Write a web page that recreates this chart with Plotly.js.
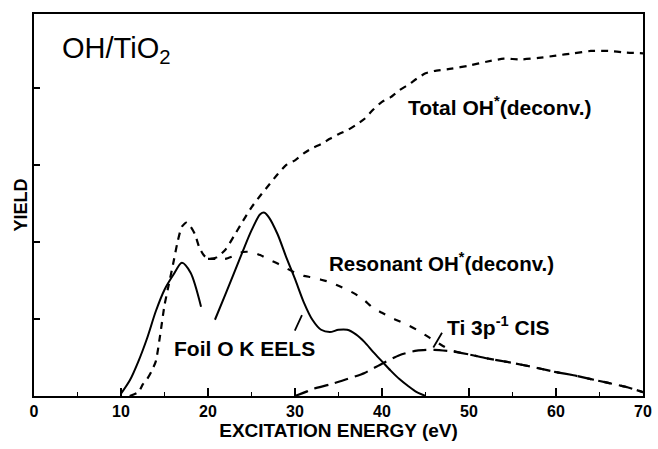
<!DOCTYPE html>
<html>
<head>
<meta charset="utf-8">
<script src="https://cdn.plot.ly/plotly-3.0.1.min.js"></script>
<style>html,body{margin:0;padding:0;background:#fff;}#chart{width:658px;height:449px;}</style>
</head>
<body>
<div id="chart"></div>
<script>
// Foil O K EELS (solid), two segments separated by a gap
const eelsX = [10, 11, 12, 13, 14, 15, 16, 17, 18, 19.2, null, 20.8, 22, 23, 24, 25, 26, 26.5, 27, 28, 29, 30, 31, 32, 33, 34, 35, 36, 37, 38, 39, 40, 41, 42, 43, 44, 45];
const eelsY = [0.03, 0.2, 0.45, 0.75, 1.1, 1.38, 1.57, 1.73, 1.6, 1.16, null, 0.99, 1.32, 1.6, 1.88, 2.15, 2.36, 2.38, 2.32, 2.1, 1.8, 1.52, 1.22, 0.99, 0.86, 0.83, 0.86, 0.86, 0.8, 0.7, 0.57, 0.45, 0.33, 0.22, 0.13, 0.05, 0.0];

// Total OH* (deconv.)
const totalX = [11, 12, 12.5, 13, 13.5, 14, 14.5, 15, 15.5, 16, 16.5, 17, 17.5, 18, 18.5, 19, 19.5, 20, 21, 22, 23, 24, 25, 26, 27, 28, 29, 30, 31, 32, 33, 34, 35, 36, 37, 38, 39, 40, 41, 42, 43, 44, 45, 46, 48, 50, 52, 54, 56, 58, 60, 62, 64, 66, 68, 70];
const totalY = [0.0, 0.05, 0.15, 0.22, 0.32, 0.45, 0.79, 1.18, 1.45, 1.72, 2.0, 2.2, 2.25, 2.2, 2.1, 1.93, 1.83, 1.78, 1.8, 1.9, 2.08, 2.27, 2.45, 2.6, 2.74, 2.88, 3.0, 3.06, 3.15, 3.22, 3.27, 3.34, 3.4, 3.45, 3.52, 3.6, 3.72, 3.82, 3.88, 3.97, 4.04, 4.12, 4.19, 4.22, 4.25, 4.29, 4.34, 4.38, 4.37, 4.39, 4.42, 4.45, 4.48, 4.48, 4.46, 4.45];

// Resonant OH* (deconv.)
const resX = [20, 21, 22, 23, 24, 25, 26, 27, 28, 29, 30, 31, 32, 33, 34, 35, 36, 37, 38, 39, 40, 41, 42, 43, 44, 45, 46, 47, 48, 50, 52, 55, 58, 60, 62, 64, 66, 68, 70];
const resY = [1.78, 1.78, 1.78, 1.82, 1.87, 1.87, 1.83, 1.77, 1.72, 1.66, 1.6, 1.56, 1.54, 1.51, 1.48, 1.43, 1.38, 1.32, 1.24, 1.14, 1.08, 1.02, 0.97, 0.92, 0.86, 0.79, 0.72, 0.65, 0.59, 0.54, 0.49, 0.43, 0.36, 0.31, 0.27, 0.22, 0.17, 0.12, 0.05];

// Ti 3p^-1 CIS
const tiX = [30, 31.4, 32, 34, 36, 38, 40, 42, 44, 46, 48, 50, 52, 55, 58, 60, 62, 64, 66, 68, 70];
const tiY = [0.0, 0.06, 0.09, 0.15, 0.22, 0.3, 0.42, 0.53, 0.59, 0.6, 0.58, 0.54, 0.49, 0.43, 0.36, 0.31, 0.27, 0.22, 0.17, 0.12, 0.05];

const xTickVals = [0, 10, 20, 30, 40, 50, 60, 70];
const xTickText = ["0", "10", "20", "30", "40", "50", "60", "70"];

const FONT = "Liberation Sans, Arial, sans-serif";

const traces = [
  {x: eelsX, y: eelsY, mode: 'lines', line: {color: '#000', width: 2, shape: 'spline', smoothing: 0.8}, connectgaps: false, hoverinfo: 'skip'},
  {x: totalX, y: totalY, mode: 'lines', line: {color: '#000', width: 2.2, dash: '7px,6px', shape: 'spline', smoothing: 0.6}, hoverinfo: 'skip'},
  {x: resX, y: resY, mode: 'lines', line: {color: '#000', width: 2.2, dash: '7px,10px', shape: 'spline', smoothing: 0.6}, hoverinfo: 'skip'},
  {x: tiX, y: tiY, mode: 'lines', line: {color: '#000', width: 2.2, dash: '14px,7px', shape: 'spline', smoothing: 0.6}, hoverinfo: 'skip'}
];

const layout = {
  width: 658, height: 449,
  margin: {l: 34, r: 15, t: 14, b: 53},
  paper_bgcolor: '#fff', plot_bgcolor: '#fff',
  showlegend: false,
  font: {family: FONT, color: '#000'},
  xaxis: {
    range: [0, 70], showgrid: false, zeroline: false,
    showline: true, linecolor: '#000', linewidth: 2, mirror: true,
    ticks: 'inside', ticklen: 8, tickwidth: 2, tickcolor: '#000',
    tickvals: xTickVals, ticktext: xTickText,
    tickfont: {family: FONT, size: 16, weight: 'bold', color: '#000'},
    minor: {dtick: 5, tick0: 0, ticks: 'inside', ticklen: 4, tickwidth: 1.5, tickcolor: '#000', showgrid: false},
    title: {text: 'EXCITATION ENERGY (eV)', font: {family: FONT, size: 19, weight: 'bold', color: '#000'}, standoff: 4}
  },
  yaxis: {
    range: [0, 4.96], showgrid: false, zeroline: false,
    showline: true, linecolor: '#000', linewidth: 2, mirror: true,
    ticks: 'inside', ticklen: 6, tickwidth: 2, tickcolor: '#000',
    dtick: 1, tick0: 0, showticklabels: false,
    title: {text: 'YIELD', font: {family: FONT, size: 18, weight: 'bold', color: '#000'}, standoff: 0}
  },
  annotations: [
    {xref: 'paper', yref: 'paper', x: 0.042, y: 0.905, xanchor: 'left', yanchor: 'middle', showarrow: false,
     text: 'OH/TiO<sub>2</sub>', font: {family: FONT, size: 29, color: '#000'}},
    {xref: 'x', yref: 'y', x: 42.8, y: 3.77, xanchor: 'left', showarrow: false,
     text: '<b>Total OH<sup>*</sup>(deconv.)</b>', font: {family: FONT, size: 21, color: '#000'}},
    {xref: 'x', yref: 'y', x: 33.7, y: 1.74, xanchor: 'left', showarrow: false,
     text: '<b>Resonant OH<sup>*</sup>(deconv.)</b>', font: {family: FONT, size: 20.5, color: '#000'}},
    {xref: 'x', yref: 'y', x: 47.2, y: 0.91, xanchor: 'left', showarrow: false,
     text: '<b>Ti 3p<sup>-1</sup> CIS</b>', font: {family: FONT, size: 21, color: '#000'}},
    {xref: 'x', yref: 'y', x: 15.9, y: 0.62, xanchor: 'left', showarrow: false,
     text: '<b>Foil O K EELS</b>', font: {family: FONT, size: 21, color: '#000'}},
    {xref: 'x', yref: 'y', x: 30.8, y: 1.05, ax: 29.9, ay: 0.83, axref: 'x', ayref: 'y',
     showarrow: true, arrowhead: 0, arrowwidth: 1.8, arrowcolor: '#000', text: ''},
    {xref: 'x', yref: 'y', x: 45.9, y: 0.63, ax: 47.0, ay: 0.84, axref: 'x', ayref: 'y',
     showarrow: true, arrowhead: 0, arrowwidth: 1.8, arrowcolor: '#000', text: ''}
  ]
};

Plotly.newPlot('chart', traces, layout, {staticPlot: true, displayModeBar: false});
</script>
</body>
</html>
